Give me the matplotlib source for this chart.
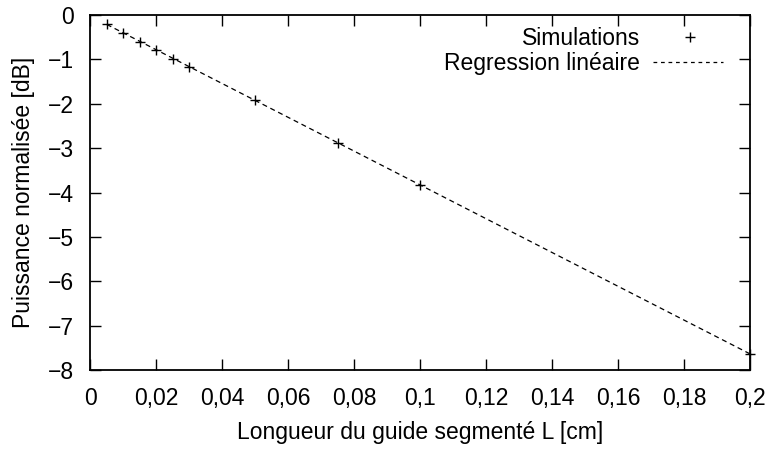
import numpy as np
import matplotlib
matplotlib.use("Agg")
from matplotlib import pyplot as plt
from matplotlib.ticker import FuncFormatter

# longueur du guide (cm) et puissance simulée (dB)
longueur = [0.005, 0.01, 0.015, 0.02, 0.025, 0.03, 0.05, 0.075, 0.1, 0.2]
puissance = [-0.20, -0.40, -0.60, -0.79, -0.98, -1.16, -1.92, -2.88, -3.84, -7.63]

x_ticks = [0, 0.02, 0.04, 0.06, 0.08, 0.1, 0.12, 0.14, 0.16, 0.18, 0.2]
y_ticks = [0, -1, -2, -3, -4, -5, -6, -7, -8]

plt.rcParams['font.family'] = ['Liberation Sans', 'DejaVu Sans']

# regression lineaire sur les simulations
pente, origine = np.polyfit(longueur, puissance, 1)
x_fit = np.linspace(longueur[0], 0.2, 100)
y_fit = pente * x_fit + origine

fig = plt.figure(figsize=(7.73, 4.49), dpi=100)
ax = fig.add_axes([0.1168, 0.1755, 0.8538, 0.7911])

ax.plot(x_fit, y_fit, color='black', linewidth=0.9, linestyle=(0, (4, 3)))
ax.plot(longueur, puissance, linestyle='none', marker='+', color='black',
        markersize=7, markeredgewidth=1.0, clip_on=False)

ax.set_xlim(0, 0.2)
ax.set_ylim(-8, 0)
ax.set_xticks(x_ticks)
ax.set_yticks(y_ticks)

def virgule(v, pos):
    s = ('%g' % round(v, 4)).replace('.', ',')
    return s.replace('-', '\u2212')

ax.xaxis.set_major_formatter(FuncFormatter(virgule))
ax.yaxis.set_major_formatter(FuncFormatter(virgule))
ax.tick_params(direction='in', length=8, width=1, top=True, right=True,
               labelsize=16.5)
ax.tick_params(axis='x', pad=12)
ax.tick_params(axis='y', pad=12)
for sp in ax.spines.values():
    sp.set_linewidth(1.3)

ax.set_xlabel('Longueur du guide segmenté L [cm]', fontsize=16.5, labelpad=8)
ax.set_ylabel('Puissance normalisée [dB]', fontsize=16.5, labelpad=9)

# legende a la maniere de gnuplot : texte aligne a droite, echantillon a droite
tr = ax.transAxes
ax.text(0.833, 0.915, 'Simulations', transform=tr, ha='right', va='baseline', fontsize=16.5)
ax.text(0.833, 0.845, 'Regression linéaire', transform=tr, ha='right', va='baseline', fontsize=16.5)
ax.plot([0.908], [0.938], transform=tr, marker='+', color='black',
        markersize=7, markeredgewidth=1.0)
ax.plot([0.853, 0.958], [0.869, 0.869], transform=tr, color='black',
        linewidth=0.9, linestyle=(0, (3, 3)))

fig.savefig('out.png', dpi=100)
